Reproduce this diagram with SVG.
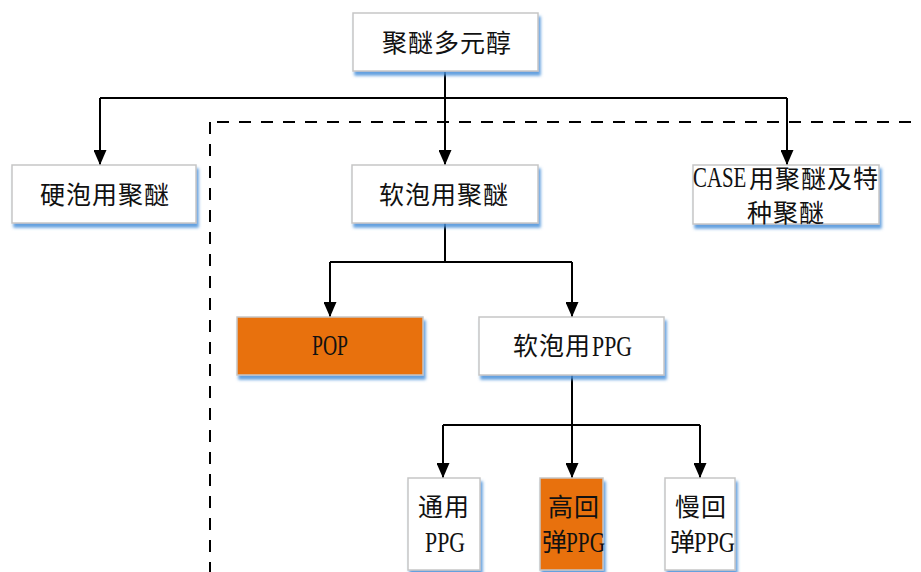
<svg xmlns="http://www.w3.org/2000/svg" width="921" height="572" viewBox="0 0 921 572">
<style>
.box{fill:#fff;stroke:#c6c6c6;stroke-width:1.5;filter:url(#sh)}
.or{fill:#e8710f;stroke:#c6c6c6;stroke-width:1.5;filter:url(#sh)}
.c{font-family:"Noto Sans CJK SC","Liberation Serif",sans-serif;font-size:25px;letter-spacing:1px;fill:#111}
.l{font-family:"Liberation Serif",serif;font-size:29px;fill:#111}
.ln{fill:none;stroke:#000;stroke-width:2}
.ar{fill:none;stroke:#000;stroke-width:2;marker-end:url(#ah)}
.dash{fill:none;stroke:#000;stroke-width:2;stroke-dasharray:12,10}
</style>
<defs>
<filter id="sh" x="-10%" y="-10%" width="125%" height="130%">
<feDropShadow dx="2" dy="4" stdDeviation="1.5" flood-color="#4a90d9" flood-opacity="0.85"/>
</filter>
<marker id="ah" markerWidth="15" markerHeight="13" refX="15" refY="6.5" orient="auto" markerUnits="userSpaceOnUse" viewBox="0 0 15 13">
<path d="M0,0 L15,6.5 L0,13 Z" fill="#000"/>
</marker>
</defs>
<g id="connectors">
<path class="ln" d="M445,72 V98"/>
<path class="ln" d="M100,98 H787"/>
<path class="ar" d="M100,98 V165"/>
<path class="ar" d="M445,98 V165"/>
<path class="ar" d="M787,98 V165"/>
<path class="ln" d="M445,223 V262"/>
<path class="ln" d="M330,262 H572"/>
<path class="ar" d="M330,262 V317"/>
<path class="ar" d="M572,262 V317"/>
<path class="ln" d="M572,375 V425"/>
<path class="ln" d="M443,425 H700"/>
<path class="ar" d="M443,425 V478"/>
<path class="ar" d="M572,425 V478"/>
<path class="ar" d="M700,425 V478"/>
</g>
<g id="dashed-region">
<path class="dash" d="M217,122 H921"/>
<path class="dash" d="M210,122 V572"/>
</g>
<g id="n-root"><rect class="box" x="353" y="13" width="185" height="58"/><text class="c" x="382" y="52">聚醚多元醇</text></g>
<g id="n-hard"><rect class="box" x="12" y="165" width="184" height="58"/><text class="c" x="40" y="204">硬泡用聚醚</text></g>
<g id="n-soft"><rect class="box" x="352" y="165" width="186" height="58"/><text class="c" x="379" y="204">软泡用聚醚</text></g>
<g id="n-case"><rect class="box" x="693" y="165" width="186" height="59"/><text class="l" transform="translate(693,187) scale(0.72,1)" x="0" y="0">CASE</text><text class="c" x="749" y="188">用聚醚及特</text><text class="c" x="747" y="222">种聚醚</text></g>
<g id="n-pop"><rect class="or" x="237" y="317" width="186" height="58"/><text class="l" x="312" y="355" textLength="36" lengthAdjust="spacingAndGlyphs">POP</text></g>
<g id="n-ppg"><rect class="box" x="479" y="317" width="185" height="58"/><text class="c" x="513" y="355">软泡用</text><text class="l" x="592" y="356" textLength="40" lengthAdjust="spacingAndGlyphs">PPG</text></g>
<g id="n-gen"><rect class="box" x="408" y="478" width="72" height="92"/><text class="c" x="418" y="516">通用</text><text class="l" x="425" y="552" textLength="40" lengthAdjust="spacingAndGlyphs">PPG</text></g>
<g id="n-hr"><rect class="or" x="540" y="478" width="63" height="92"/><text class="c" x="548" y="516">高回</text><text class="c" x="542" y="551">弹</text><text class="l" x="566" y="552" textLength="39" lengthAdjust="spacingAndGlyphs">PPG</text></g>
<g id="n-slow"><rect class="box" x="665" y="478" width="70" height="92"/><text class="c" x="675" y="516">慢回</text><text class="c" x="670" y="551">弹</text><text class="l" x="694" y="552" textLength="41" lengthAdjust="spacingAndGlyphs">PPG</text></g>
</svg>
